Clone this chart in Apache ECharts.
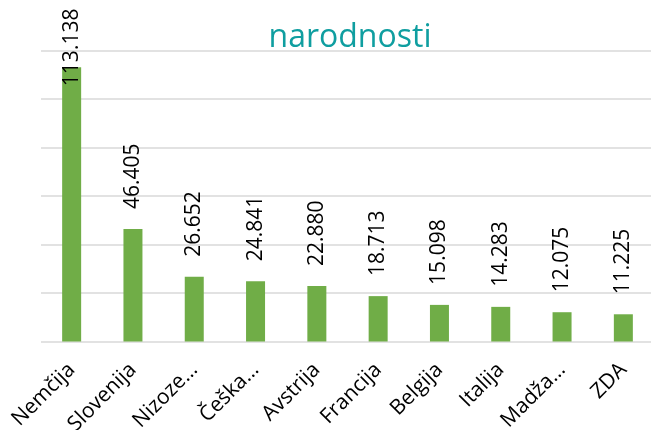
<!DOCTYPE html>
<html>
<head>
<meta charset="utf-8">
<script src="https://cdn.jsdelivr.net/npm/echarts@6/dist/echarts.min.js"></script>
<style>html,body{margin:0;padding:0;background:#fff}#c{width:651px;height:430px}</style>
</head>
<body>
<div id="c"></div>
<script>
const titleText = 'narodnosti';
const categories = ['Nemčija', 'Slovenija', 'Nizoze…', 'Češka…', 'Avstrija', 'Francija', 'Belgija', 'Italija', 'Madža…', 'ZDA'];
const values = [113138, 46405, 26652, 24841, 22880, 18713, 15098, 14283, 12075, 11225];
const yMin = 0, yMax = 120000, yInterval = 20000;

const fmt = v => String(v).replace(/\B(?=(\d{3})+(?!\d))/g, '.');
const FONT = 'Open Sans';

const data = values.map(v => {
  const item = { value: v };
  if (v > yMax * 0.8) {
    item.label = { position: 'insideTop', distance: 19 };
  }
  return item;
});

const chart = echarts.init(document.getElementById('c'), null, { renderer: 'canvas' });
chart.setOption({
  animation: false,
  title: {
    text: titleText,
    left: 345, textAlign: 'center', top: 17,
    textStyle: { fontFamily: FONT, fontSize: 32, fontWeight: 'normal', color: '#0F9EA0' }
  },
  grid: { left: 41, right: -3, top: 50.5, bottom: 88.5, containLabel: false, outerBoundsMode: 'none' },
  xAxis: {
    type: 'category',
    data: categories,
    axisLine: { show: false },
    axisTick: { show: false },
    axisLabel: {
      rotate: 45, interval: 0, margin: 25,
      fontFamily: FONT, fontSize: 21, color: '#000'
    }
  },
  yAxis: {
    type: 'value', min: yMin, max: yMax, interval: yInterval,
    axisLabel: { show: false },
    axisLine: { show: false },
    axisTick: { show: false },
    splitLine: { lineStyle: { color: '#D9D9D9', width: 1.5 } }
  },
  series: [{
    type: 'bar',
    data: data,
    barWidth: 19,
    itemStyle: { color: '#70AD47' },
    label: {
      show: true, position: 'top', distance: 20,
      rotate: 90, align: 'left', verticalAlign: 'middle',
      fontFamily: FONT, fontSize: 21, color: '#000',
      formatter: p => fmt(p.value)
    }
  }]
});
</script>
</body>
</html>
